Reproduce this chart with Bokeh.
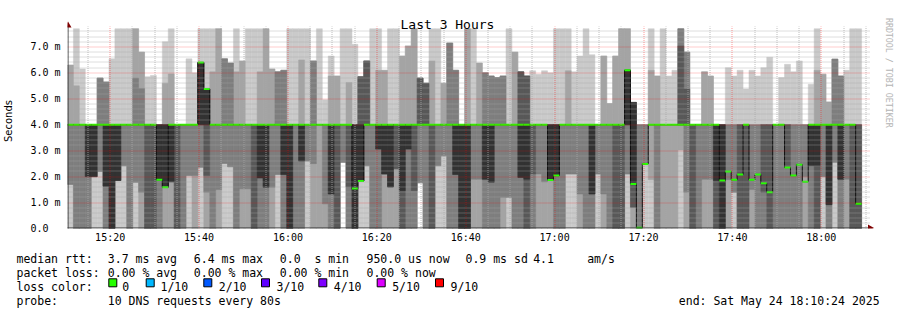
from math import pi, floor
from bokeh.plotting import figure
from bokeh.layouts import column, row
from bokeh.models import Range1d, FixedTicker, ColumnDataSource
from bokeh.core.properties import value
from bokeh.embed import file_html
from bokeh.resources import INLINE

# ---------------- data ----------------
START_MIN = 10.4          # 15:10:24 as minutes after 15:00
STEP_MIN = 80 / 60        # one round of 10 pings every 80 s

# sorted ping times (ms) per 80 s step, ping1 = fastest ... ping10 = slowest
ping1 = [
    0, 0, 0, 0, 0, 0, 0, 0, 0, 0,
    0, 0, 0, 0, 0, 0, 0, 0, 0, 0,
    0, 0, 0, 0, 0, 0, 0, 0, 0, 0,
    0, 0, 0, 0, 0, 0, 0, 0, 0, 0,
    0, 0, 0, 0, 0, 0, 2.55, 0, 0, 0,
    0, 0, 0, 0, 0, 0, 0, 0, 0, 1.76,
    0, 0, 0, 0, 0, 0, 0, 0, 0, 0,
    0, 0, 0, 0, 0, 0, 0, 0, 0, 0,
    0, 0, 0, 0, 0, 0, 0, 0, 0, 0,
    0, 0, 0, 0, 0, 0, 0, 0, 0, 0,
    0, 0, 0, 0, 0, 0, 0, 0, 0, 0,
    0, 0, 0, 0, 0, 0, 0, 0, 0, 0,
    0, 0, 0, 0, 0, 0, 0, 0, 0, 0,
    0, 0, 0, 0]
ping2 = [
    1.7, 0, 0, 0, 2, 2.2, 0, 0, 1.85, 2.42,
    0, 1.78, 0, 0, 0, 0, 0, 0, 0, 0,
    2.04, 0, 2.36, 0, 0, 0, 2.51, 2.38, 0, 0,
    0, 0, 0, 0, 0, 2.08, 0, 0, 0, 0,
    2.6, 0, 0, 0, 0, 0, 2.55, 0, 0, 1.83,
    2.42, 0, 0, 0, 0, 0, 0, 0, 0, 1.76,
    0, 0, 2.42, 2.8, 0, 0, 0, 0, 0, 0,
    0, 0, 0, 0, 1.2, 0, 0, 0, 0, 0,
    0, 0, 0, 0, 2.1, 2.1, 0, 0, 0, 2.1,
    0, 0, 0, 0, 2.1, 0, 0, 2.49, 1.88, 0,
    0, 0, 0, 3.03, 0, 0, 0, 0, 0, 0,
    0, 0, 1.4, 0, 0, 0, 0, 0, 0, 0,
    0, 0, 0, 0, 0, 0, 0, 2.0, 0, 2.55,
    0, 0, 0, 0]
ping3 = [
    1.7, 0, 0, 0, 2, 2.2, 0, 0, 1.85, 2.42,
    0, 1.78, 1.4, 0, 0, 0, 1.59, 1.8, 0, 0,
    2.04, 2.04, 2.36, 1.4, 0, 1.5, 2.51, 2.38, 0, 1.53,
    1.53, 0, 0, 0, 1.59, 2.08, 0, 0, 0, 0,
    2.6, 2.5, 4, 0.95, 0, 0, 2.55, 0, 0, 1.83,
    2.42, 0, 0, 2.1, 1.6, 2.3, 0, 0, 0, 1.76,
    0, 0, 2.42, 2.8, 0, 0, 0, 0, 1.9, 1.9,
    0, 0, 0, 1.2, 1.2, 0, 0, 0, 0, 2.1,
    1.8, 1.87, 0, 0, 2.1, 2.1, 1.33, 0, 0, 2.1,
    1.33, 0, 0, 0, 2.1, 0.82, 0, 2.49, 4, 0,
    4, 4, 4, 4, 1.4, 0, 0, 1.9, 1.9, 0,
    0, 1.88, 1.4, 0, 0, 1.5, 0, 0, 0, 0,
    0, 0, 0, 0, 2.0, 0, 0, 2.0, 0, 2.55,
    0, 1.9, 0, 0]
ping4 = [
    4, 4, 4, 2, 2, 4, 1.63, 0, 1.85, 4,
    4, 4, 4, 0, 0, 1.88, 1.59, 1.8, 0, 4,
    4, 4, 4, 2.04, 4, 4, 4, 4, 4, 4,
    4, 0, 1.95, 1.59, 4, 4, 2.08, 0, 4, 2.6,
    4, 4, 4, 4, 1.33, 0, 4, 1.6, 0, 1.83,
    4, 4, 3.06, 2.1, 1.6, 2.3, 0, 3.06, 1.46, 4,
    4, 0, 4, 4, 4, 2.08, 0, 0, 4, 4,
    1.9, 1.78, 4, 4, 4, 4, 1.97, 0, 2.1, 4,
    4, 1.87, 2.04, 4, 4, 4, 4, 4, 1.33, 4,
    4, 4, 0, 0, 4, 0.82, 4, 4, 4, 4,
    4, 4, 4, 4, 4, 0, 4, 4, 4, 0,
    0, 4, 4, 0, 0, 4, 4, 1.4, 0, 4,
    4, 2.35, 4, 4, 4, 2.42, 0, 4, 0.92, 4,
    1.9, 4, 0, 0]
ping5 = [
    4, 4, 4, 2, 2, 4, 1.63, 0, 1.85, 4,
    4, 4, 4, 4, 4, 1.88, 1.59, 1.8, 4, 4,
    4, 4, 4, 4, 4, 4, 4, 4, 4, 4,
    4, 4, 1.95, 1.59, 4, 4, 2.08, 0, 4, 2.6,
    4, 4, 4, 4, 1.33, 4, 4, 4, 0, 1.83,
    4, 4, 3.06, 2.1, 1.6, 4, 1.46, 3.06, 4, 4,
    4, 4, 4, 4, 4, 2.08, 0, 0, 4, 4,
    1.9, 1.78, 4, 4, 4, 4, 1.97, 1.9, 4, 4,
    4, 1.87, 2.04, 4, 4, 4, 4, 4, 1.33, 4,
    4, 4, 4, 4, 4, 1.72, 4, 4, 4, 4,
    4, 4, 4, 4, 4, 4, 4, 4, 4, 1.85,
    0, 4, 4, 4, 4, 4, 4, 4, 4, 4,
    4, 4, 4, 4, 4, 2.42, 2.42, 4, 0.92, 4,
    1.9, 4, 4, 4]
ping6 = [
    4, 4, 4, 4, 4, 4, 4, 4, 4, 4,
    4, 4, 4, 4, 4, 4, 4, 4, 4, 4,
    4, 4, 6.4, 5.38, 4, 4, 4, 4, 4, 4,
    4, 4, 4, 4, 4, 4, 4, 4, 4, 4,
    4, 4, 4, 4, 4, 4, 4, 4, 4, 4,
    4, 4, 4, 4, 4, 4, 4, 4, 4, 4,
    4, 4, 4, 4, 4, 4, 4, 4, 4, 4,
    4, 4, 4, 4, 4, 4, 4, 4, 4, 4,
    4, 4, 4, 4, 4, 4, 4, 4, 4, 4,
    4, 4, 4, 4, 6.1, 4.86, 4, 4, 4, 4,
    4, 4, 4, 4, 4, 4, 4, 4, 4, 4,
    4, 4, 4, 4, 4, 4, 4, 4, 4, 4,
    4, 4, 4, 4, 4, 4, 4, 4, 4, 4,
    4, 4, 4, 4]
ping7 = [
    4, 4, 4, 4, 4, 4, 4, 4, 4, 4,
    4, 4, 4, 4, 4, 4, 4, 4, 4, 4,
    4, 4, 6.4, 5.38, 4, 4, 4, 4, 4, 4,
    4, 4, 4, 4, 4, 4, 4, 4, 4, 4,
    4, 4, 4, 4, 4, 4, 4, 4, 4, 5.85,
    6.46, 4, 4, 4, 4, 4, 4, 4, 4, 5.8,
    5.6, 4, 4, 4, 4, 4, 4, 4, 4, 4,
    4, 4, 4, 4, 4, 4, 6.04, 5.88, 4, 4,
    4, 4, 4, 4, 4, 4, 4, 4, 4, 4,
    4, 4, 4, 4, 6.1, 4.86, 4, 4, 4, 4,
    4, 4, 4, 7.04, 5.38, 4, 4, 4, 4, 4,
    4, 4, 4, 4, 4, 4, 4, 4, 4, 4,
    4, 4, 4, 4, 4, 4, 4, 4, 4, 4,
    4, 4, 4, 4]
ping8 = [
    4, 4, 4, 4, 4, 5.8, 5.65, 4, 4, 4,
    4, 5.8, 5.4, 4, 4, 4, 4, 4, 4, 4,
    4, 4, 6.4, 5.38, 4, 4, 6.54, 6.38, 4, 4,
    4, 4, 4, 4, 4, 6.04, 6.1, 4, 4, 4,
    4, 6.46, 4, 4, 4, 4, 4, 4, 4, 5.85,
    6.46, 4, 4, 4, 4, 4, 4, 4, 4, 5.8,
    5.6, 4, 4, 4, 7.15, 6.1, 4, 4, 4, 4,
    6.0, 5.88, 5.82, 5.88, 4, 4, 6.04, 5.88, 4, 4,
    4, 4, 4, 4, 4, 4, 4, 4, 4, 4,
    4, 4, 4, 4, 6.1, 4.86, 4, 4, 4, 4,
    4, 4, 4, 7.7, 6.8, 4, 4, 4, 4, 4,
    4, 4, 4, 4, 4, 4, 4, 4, 4, 4,
    4, 4, 4, 4, 4, 4, 4, 4, 4, 6.53,
    5.88, 4, 4, 4]
ping9 = [
    6.3, 5.5, 4, 4, 4, 5.8, 5.65, 4, 4, 4,
    4, 7.7, 6.8, 4, 4, 4, 5.6, 5.96, 4, 4,
    4, 4, 6.4, 5.38, 6.04, 7.7, 6.54, 6.38, 6.04, 6.46,
    4, 4, 6.04, 7.7, 6.15, 6.04, 6.1, 4, 4, 6.5,
    4, 6.46, 4, 4, 5.88, 5.88, 4, 5.63, 4, 5.85,
    6.46, 4, 6.1, 6.1, 4, 4, 6.65, 7.04, 7.7, 5.8,
    5.6, 6.46, 4, 5.6, 7.15, 6.1, 4, 7.7, 4, 6.38,
    6.0, 5.88, 5.82, 5.88, 4, 6.8, 6.04, 5.88, 4, 4,
    4, 4, 4, 4, 6.08, 4, 4, 4, 4, 4,
    6.65, 4.82, 6.65, 7.7, 7.7, 4.86, 4, 4, 6.1, 5.88,
    4, 4, 4, 7.7, 6.8, 4, 4, 6.04, 5.88, 4,
    4, 4, 4, 4, 4, 4, 4, 4, 4, 4,
    4, 4, 4, 4, 4, 4, 6.1, 5.95, 4.88, 6.53,
    5.88, 4, 4, 4]
ping10 = [
    6.3, 7.7, 6.15, 4, 4, 5.8, 5.65, 6.54, 7.7, 7.7,
    7.7, 7.7, 6.8, 5.85, 5.9, 4, 7.2, 7.7, 4, 4,
    6.54, 6.0, 7.7, 7.7, 7.7, 7.7, 6.54, 6.38, 7.7, 6.46,
    7.7, 7.7, 7.7, 7.7, 6.15, 6.04, 6.1, 7.7, 7.7, 7.7,
    7.7, 6.46, 7.7, 4.96, 6.65, 5.88, 7.7, 7.7, 7.1, 5.85,
    6.46, 7.7, 7.7, 6.1, 7.7, 7.7, 6.65, 7.04, 7.7, 5.8,
    5.6, 7.7, 7.7, 5.6, 7.15, 6.1, 4, 7.7, 7.7, 6.38,
    6.0, 5.88, 5.82, 5.88, 7.7, 6.8, 6.04, 5.88, 6.08, 5.95,
    6.08, 6.0, 7.7, 7.7, 7.7, 6.04, 6.65, 7.7, 6.7, 4,
    6.65, 4.82, 6.65, 7.7, 7.7, 4.86, 4, 4, 7.7, 5.88,
    7.7, 5.88, 6.1, 7.7, 6.8, 4, 4, 6.04, 5.88, 4,
    4, 6.2, 5.88, 6.1, 5.38, 6.1, 5.88, 6.2, 6.6, 4,
    5.82, 6.33, 6.04, 6.46, 4, 5.56, 7.7, 5.95, 4.88, 6.53,
    5.88, 6.1, 7.7, 7.7]
median_ms = [
    4, 4, 4, 4, 4, 4, 4, 4, 4, 4,
    4, 4, 4, 4, 4, 1.88, 1.59, 4, 4, 4,
    4, 4, 6.4, 5.38, 4, 4, 4, 4, 4, 4,
    4, 4, 4, 4, 4, 4, 4, 4, 4, 4,
    4, 4, 4, 4, 4, 4, 4, 4, 1.54, 1.83,
    4, 4, 4, 4, 4, 4, 4, 4, 4, 4,
    4, 4, 4, 4, 4, 4, 4, 4, 4, 4,
    4, 4, 4, 4, 4, 4, 4, 4, 4, 4,
    4, 1.87, 2.04, 4, 4, 4, 4, 4, 4, 4,
    4, 4, 4, 4, 6.1, 1.72, 0.03, 2.49, 4, 4,
    4, 4, 4, 4, 4, 4, 4, 4, 4, 4,
    1.85, 2.2, 1.88, 2.08, 4, 1.88, 2.08, 1.74, 1.4, 4,
    4, 2.35, 2.04, 2.46, 1.8, 4, 4, 4, 4, 4,
    4, 4, 4, 0.95]

x_major = [20, 40, 60, 80, 100, 120, 140, 160, 180]
x_labels = ["15:20", "15:40", "16:00", "16:20", "16:40", "17:00", "17:20", "17:40", "18:00"]
x_minor = [m for m in range(15, 191, 5) if m % 20]
y_major = [0, 1, 2, 3, 4, 5, 6, 7]
y_labels = ["0.0\u00a0\u00a0", "1.0 m", "2.0 m", "3.0 m", "4.0 m", "5.0 m", "6.0 m", "7.0 m"]
y_minor = [round(i * 0.2, 1) for i in range(1, 39) if i % 5]

title_text = "Last 3 Hours"
y_title = "Seconds"
watermark = "RRDTOOL / TOBI OETIKER"

stat_rows = [
    ["median rtt:", "3.7 ms avg", "6.4 ms max", "0.0  s min", "950.0 us now", "0.9 ms sd", "4.1", "am/s"],
    ["packet loss:", "0.00 % avg", "0.00 % max", "0.00 % min", "0.00 % now"],
    ["loss color:"],
    ["probe:", "10 DNS requests every 80s", "end: Sat May 24 18:10:24 2025"],
]
loss_labels = ["0", "1/10", "2/10", "3/10", "4/10", "5/10", "9/10"]
loss_colors = ["#26ff00", "#00b8ff", "#0059ff", "#5e00ff", "#7e00ff", "#dd00ff", "#ff0000"]

# ---------------- layout constants (pixels) ----------------
LEFT, TOP, BOTTOM, MAIN_W, MAIN_H = 67, 13, 228, 880, 245
PX_PER_MIN = 800 / 180
PX_PER_MS = 25.94
MONO = "DejaVu Sans Mono"
AXIS_COLOR = "#333333"
ARROW_COLOR = "#7f0000"


def px_x(px):
    return START_MIN + (px - LEFT) / PX_PER_MIN


def px_y(py):
    return (BOTTOM - py) / PX_PER_MS


def crisp_x(m):
    # centre a 1 px line on the pixel column that holds minute m
    return px_x(floor(LEFT + (m - START_MIN) * PX_PER_MIN) + 0.5)


def crisp_y(v):
    return px_y(floor(BOTTOM - v * PX_PER_MS) + 0.5)


p = figure(width=MAIN_W, height=MAIN_H,
           x_range=Range1d(START_MIN, px_x(MAIN_W)),
           y_range=Range1d(0, px_y(TOP)),
           min_border_left=LEFT, min_border_right=0,
           min_border_top=TOP, min_border_bottom=MAIN_H - BOTTOM,
           toolbar_location=None, output_backend="svg",
           background_fill_color="white", border_fill_color="white",
           outline_line_color=None)
p.title.visible = False
p.grid.visible = False

n = min(len(a) for a in [ping1, ping2, ping3, ping4, ping5, ping6, ping7, ping8, ping9, ping10, median_ms])
left = [START_MIN + i * STEP_MIN for i in range(n)]
right = [l + STEP_MIN for l in left]
pings = [ping1, ping2, ping3, ping4, ping5, ping6, ping7, ping8, ping9, ping10]
band_colors = ["#cacaca", "#a4a4a4", "#7e7e7e", "#585858", "#323232"]

for k, col in enumerate(band_colors):
    lo, hi = pings[k], pings[9 - k]
    idx = [i for i in range(n) if hi[i] > lo[i]]
    src = ColumnDataSource(dict(left=[left[i] for i in idx], right=[right[i] for i in idx],
                                bottom=[lo[i] for i in idx], top=[hi[i] for i in idx]))
    p.quad(left="left", right="right", bottom="bottom", top="top", source=src,
           fill_color=col, line_color=col, line_width=0.5)

# median line (black steps) + loss coloured median (0 loss -> green)
p.step(x=left + [right[n - 1]], y=median_ms[:n] + [median_ms[n - 1]], mode="after",
       line_color="#101010", line_width=1)
p.segment(x0=left, x1=right, y0=median_ms[:n], y1=median_ms[:n],
          line_color=loss_colors[0], line_width=2)

# grid (dotted, on top of the smoke), snapped to whole pixels
g_top, g_bot = px_y(26), px_y(230.5)
g_left, g_right = px_x(64), px_x(869)
xm = [crisp_x(m) for m in x_minor]
xM = [crisp_x(m) for m in x_major]
ym = [crisp_y(v) for v in y_minor]
yM = [crisp_y(v) for v in y_major[1:]]
MINOR_COLOR, MINOR_ALPHA = "#a8a8a8", 0.75
MAJOR_COLOR, MAJOR_ALPHA = "#ff0000", 0.4
p.segment(x0=xm, x1=xm, y0=[g_bot] * len(xm), y1=[g_top] * len(xm),
          line_color=MINOR_COLOR, line_alpha=MINOR_ALPHA, line_dash="1 1", line_width=1)
p.segment(x0=[g_left] * len(ym), x1=[g_right] * len(ym), y0=ym, y1=ym,
          line_color=MINOR_COLOR, line_alpha=MINOR_ALPHA, line_dash="1 1", line_width=1)
p.segment(x0=xM, x1=xM, y0=[g_bot] * len(xM), y1=[g_top] * len(xM),
          line_color=MAJOR_COLOR, line_alpha=MAJOR_ALPHA, line_dash="1 1", line_width=1)
p.segment(x0=[g_left] * len(yM), x1=[g_right] * len(yM), y0=yM, y1=yM,
          line_color=MAJOR_COLOR, line_alpha=MAJOR_ALPHA, line_dash="1 1", line_width=1)

# axis lines with arrows
p.segment(x0=[px_x(67.5)], x1=[px_x(67.5)], y0=[px_y(230)], y1=[px_y(25)],
          line_color=AXIS_COLOR, line_width=1)
p.segment(x0=[px_x(64)], x1=[px_x(869)], y0=[px_y(227.5)], y1=[px_y(227.5)],
          line_color=AXIS_COLOR, line_width=1)
p.scatter(x=[px_x(67.5)], y=[px_y(25.0)], marker="triangle", size=7,
          fill_color=ARROW_COLOR, line_color=None)
p.scatter(x=[px_x(869.5)], y=[px_y(227.5)], marker="triangle", size=7, angle=-pi / 2,
          fill_color=ARROW_COLOR, line_color=None)

# title
p.text(x=[px_x(400)], y=[px_y(24)], text=[title_text], text_font=value(MONO),
       text_font_size="13px", text_align="left", text_baseline="alphabetic", text_color="black")

# axes: labels only
for ax in (p.xaxis, p.yaxis):
    ax.axis_line_color = None
    ax.major_tick_line_color = None
    ax.minor_tick_line_color = None
    ax.major_tick_in = 0
    ax.major_tick_out = 0
    ax.minor_tick_in = 0
    ax.minor_tick_out = 0
    ax.major_label_text_font = MONO
    ax.major_label_text_font_size = "10px"
    ax.major_label_text_color = "black"
p.xaxis.ticker = FixedTicker(ticks=x_major)
p.xaxis.major_label_overrides = dict(zip(x_major, x_labels))
p.xaxis.major_label_standoff = 3
p.yaxis.ticker = FixedTicker(ticks=y_major)
p.yaxis.major_label_overrides = dict(zip(y_major, y_labels))
p.yaxis.major_label_standoff = 7
p.yaxis.axis_label = y_title
p.yaxis.axis_label_text_font = "DejaVu Sans"
p.yaxis.axis_label_text_font_size = "10px"
p.yaxis.axis_label_text_font_style = "normal"
p.yaxis.axis_label_text_color = "black"
p.yaxis.axis_label_standoff = 13

# right strip with the watermark
side = figure(width=897 - MAIN_W, height=MAIN_H, x_range=Range1d(MAIN_W, 897),
              y_range=Range1d(MAIN_H, 0), min_border=0, toolbar_location=None,
              output_backend="svg", outline_line_color=None,
              x_axis_type=None, y_axis_type=None, border_fill_color="white")
side.title.visible = False
side.text(x=[888], y=[5], text=[watermark], angle=-pi / 2, text_align="left",
          text_baseline="middle", text_font=value(MONO), text_font_size="8.3px",
          text_color="#b4b4b4")

# legend strip
leg = figure(width=897, height=310 - MAIN_H, x_range=Range1d(0, 897),
             y_range=Range1d(310, MAIN_H), min_border=0, toolbar_location=None,
             output_backend="svg", outline_line_color=None,
             x_axis_type=None, y_axis_type=None, border_fill_color="white")
leg.title.visible = False
row_baselines = [258.3, 272.3, 286.3, 300.3]
row_x = [[16, 107.3, 193.3, 279.3, 366, 465, 532.7, 586.7],
         [16, 107.3, 193.3, 279.3, 366],
         [16],
         [16, 107.3, 678.3]]
tx, ty, tt = [], [], []
for r, items in enumerate(stat_rows):
    for j, s in enumerate(items):
        tx.append(row_x[r][j])
        ty.append(row_baselines[r])
        tt.append(s.replace(" ", "\u00a0"))
box_left = [108.3, 145.7, 203.3, 261.0, 318.3, 376.7, 435.0]
lab_x = [121.7, 160.0, 218.3, 276.0, 333.3, 391.7, 450.0]
for j, s in enumerate(loss_labels):
    tx.append(lab_x[j])
    ty.append(row_baselines[2])
    tt.append(s)
leg.text(x=tx, y=ty, text=tt, text_font=value(MONO), text_font_size="11.5px",
         text_align="left", text_baseline="alphabetic", text_color="black")
leg.quad(left=box_left, right=[b + 8 for b in box_left], top=[278.3] * 7, bottom=[286.3] * 7,
         fill_color=loss_colors, line_color="black", line_width=1)

layout = column(row(p, side), leg)
open("out.html", "w").write(file_html(layout, INLINE))
